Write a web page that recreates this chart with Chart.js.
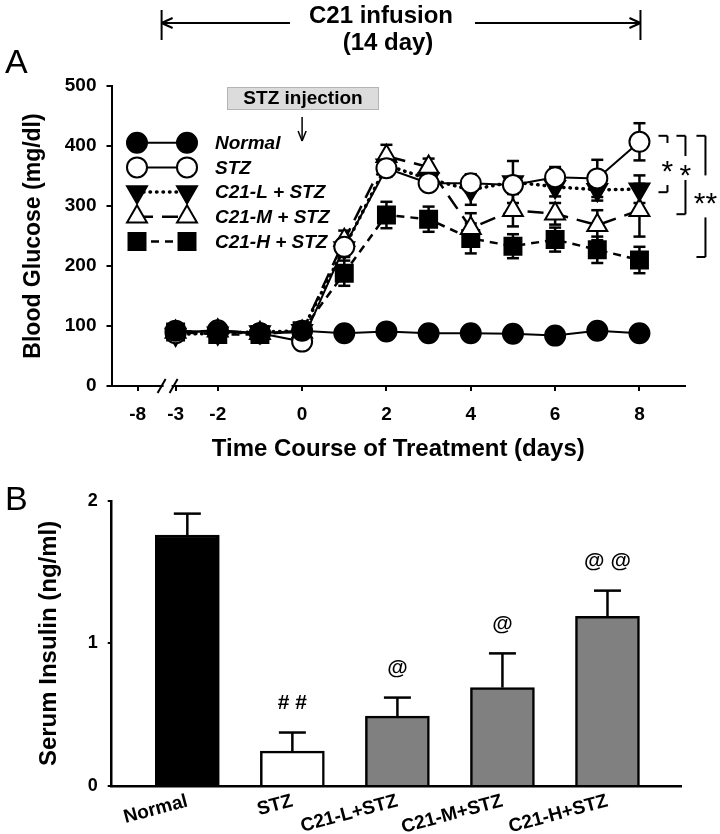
<!DOCTYPE html>
<html>
<head>
<meta charset="utf-8">
<script src="https://cdn.jsdelivr.net/npm/chart.js@4.4.0/dist/chart.umd.min.js"></script>
<style>
  html, body { margin: 0; padding: 0; background: #fff; }
  #wrap { position: relative; width: 720px; height: 834px; overflow: hidden; }
  #glucose { position: absolute; left: 0; top: 0; }
  #insulin { position: absolute; left: 0; top: 480px; }
  .panel { position: absolute; font: 34px/1 'Liberation Sans', Arial, sans-serif; color: #000; }
</style>
</head>
<body>
<div id="wrap">
  <canvas id="glucose" width="720" height="470"></canvas>
  <canvas id="insulin" width="720" height="354"></canvas>
  <div class="panel" style="left:5px; top:44px;">A</div>
  <div class="panel" style="left:5px; top:481px;">B</div>
</div>
<script>
/* ── data: panel A, blood glucose (mg/dl) ── */
const days      = [-3, -2, -1, 0, 1, 2, 3, 4, 5, 6, 7, 8];
const dayTicks  = [-8, -3, -2, 0, 2, 4, 6, 8];
const groupNames = ['Normal', 'STZ', 'C21-L + STZ', 'C21-M + STZ', 'C21-H + STZ'];

const normal    = [92, 90, 88, 92, 88, 91, 88, 88, 87, 84, 92, 88];
const stz       = [88, 93, 88, 74, 232, 363, 338, 338, 335, 348, 346, 407];
const c21L      = [86, 88, 90, 92, 230, 368, 345, 327, 340, 332, 327, 328];
const c21M      = [90, 92, 88, 90, 243, 383, 365, 263, 293, 287, 268, 293];
const c21H      = [90, 86, 86, 92, 188, 285, 278, 246, 233, 244, 227, 210];

const normalSem = [5, 5, 5, 5, 4, 4, 4, 4, 4, 4, 4, 4];
const stzSem    = [6, 6, 5, 6, 14, 14, 10, 15, 12, 17, 31, 31];
const c21LSem   = [8, 6, 5, 5, 15, 14, 12, 25, 35, 16, 18, 23];
const c21MSem   = [6, 6, 5, 5, 16, 19, 14, 25, 27, 18, 25, 44];
const c21HSem   = [6, 6, 5, 6, 21, 22, 21, 25, 20, 20, 22, 22];

/* ── data: panel B, serum insulin (ng/ml) ── */
const insulinGroups = ['Normal', 'STZ', 'C21-L+STZ', 'C21-M+STZ', 'C21-H+STZ'];
const insulin       = [1.76, 0.245, 0.49, 0.69, 1.19];
const insulinSem    = [0.15, 0.13, 0.13, 0.24, 0.18];
const insulinSig    = ['', '# #', '@', '@', '@ @'];

const FONT = "'Liberation Sans', Arial, Helvetica, sans-serif";
Chart.defaults.font.family = FONT;
Chart.defaults.color = '#000';

/* broken axis: -8 sits just left of the break */
const axisDay = d => (d < -3 ? d + 4.1 : d);

const seriesValues = [normal, stz, c21L, c21M, c21H];
const seriesSem    = [normalSem, stzSem, c21LSem, c21MSem, c21HSem];
const seriesStyle  = [
  { pointStyle: 'circle',   rotation: 0,   fill: '#000', radius: 10,   dash: [],      width: 2,   cap: 'butt'  },
  { pointStyle: 'circle',   rotation: 0,   fill: '#fff', radius: 10,   dash: [],      width: 2,   cap: 'butt'  },
  { pointStyle: 'triangle', rotation: 180, fill: '#000', radius: 11.5, dash: [0.5, 6], width: 3.5, cap: 'round' },
  { pointStyle: 'triangle', rotation: 0,   fill: '#fff', radius: 11.5, dash: [16, 9], width: 2.5, cap: 'butt'  },
  { pointStyle: 'rect',     rotation: 0,   fill: '#000', radius: 12,   dash: [8, 6],  width: 2.5, cap: 'butt'  }
];

function line(ctx, x1, y1, x2, y2) {
  ctx.beginPath(); ctx.moveTo(x1, y1); ctx.lineTo(x2, y2); ctx.stroke();
}

function marker(ctx, st, x, y) {
  ctx.fillStyle = st.fill; ctx.strokeStyle = '#000'; ctx.lineWidth = 2;
  ctx.setLineDash([]);
  if (Chart.helpers && Chart.helpers.drawPoint) {
    Chart.helpers.drawPoint(ctx, { pointStyle: st.pointStyle, rotation: st.rotation, radius: st.radius, borderWidth: 2 }, x, y);
  } else {
    ctx.beginPath(); ctx.arc(x, y, st.radius, 0, Math.PI * 2); ctx.fill(); ctx.stroke();
  }
}

/* error bars behind the markers */
const glucoseErrors = {
  id: 'glucoseErrors',
  beforeDatasetsDraw(chart) {
    const { ctx, scales: { x, y } } = chart;
    ctx.save();
    ctx.strokeStyle = '#000'; ctx.lineWidth = 2.5;
    seriesValues.forEach((vals, s) => {
      vals.forEach((v, i) => {
        const px = x.getPixelForValue(days[i]);
        const t = y.getPixelForValue(v + seriesSem[s][i]);
        const b = y.getPixelForValue(v - seriesSem[s][i]);
        line(ctx, px, t, px, b);
        line(ctx, px - 6, t, px + 6, t);
        line(ctx, px - 6, b, px + 6, b);
      });
    });
    ctx.restore();
  }
};

/* legend, labels, brackets, axis break */
const glucoseExtras = {
  id: 'glucoseExtras',
  afterDraw(chart) {
    const { ctx, scales: { x, y } } = chart;
    ctx.save();
    ctx.strokeStyle = '#000'; ctx.fillStyle = '#000';

    // axis break
    const bx = x.getPixelForValue(-3) - 8, by = y.getPixelForValue(0);
    ctx.fillStyle = '#fff';
    ctx.fillRect(bx - 4, by - 3, 8, 6);
    ctx.lineWidth = 2;
    line(ctx, bx - 10, by + 7, bx - 2, by - 7);
    line(ctx, bx + 2, by + 7, bx + 10, by - 7);

    // legend
    groupNames.forEach((name, i) => {
      const st = seriesStyle[i];
      const ly = 142.7 + i * 24.7;
      ctx.save();
      ctx.strokeStyle = '#000'; ctx.lineWidth = st.width; ctx.lineCap = st.cap;
      ctx.setLineDash(st.dash);
      line(ctx, 137, ly, 187, ly);
      ctx.restore();
      marker(ctx, st, 137, ly);
      marker(ctx, st, 187, ly);
      ctx.fillStyle = '#000';
      ctx.font = 'italic bold 19px ' + FONT;
      ctx.textAlign = 'left'; ctx.textBaseline = 'middle';
      ctx.fillText(name, 215, ly + 1);
    });

    // C21 infusion span
    ctx.setLineDash([]);
    ctx.lineWidth = 2;
    const xl = x.getPixelForValue(-3) - 14, xr = x.getPixelForValue(8) + 1, ay = 23;
    line(ctx, xl, 10, xl, 40); line(ctx, xr, 10, xr, 40);
    line(ctx, xl, ay, 290, ay); line(ctx, 475, ay, xr, ay);
    line(ctx, xl, ay, xl + 11, ay - 5); line(ctx, xl, ay, xl + 11, ay + 5);
    line(ctx, xr, ay, xr - 11, ay - 5); line(ctx, xr, ay, xr - 11, ay + 5);
    ctx.fillStyle = '#000';
    ctx.font = 'bold 24px ' + FONT;
    ctx.textAlign = 'center'; ctx.textBaseline = 'middle';
    ctx.fillText('C21 infusion', 381, 16);
    ctx.fillText('(14 day)', 388, 43);

    // STZ injection box + arrow
    const x0 = x.getPixelForValue(0);
    ctx.fillStyle = '#dcdcdc'; ctx.strokeStyle = '#b4b4b4'; ctx.lineWidth = 1;
    ctx.fillRect(227, 87, 152, 23); ctx.strokeRect(227.5, 87.5, 151, 22);
    ctx.fillStyle = '#000'; ctx.strokeStyle = '#000';
    ctx.font = 'bold 19px ' + FONT;
    ctx.fillText('STZ injection', 303, 99);
    ctx.lineWidth = 1.5;
    line(ctx, x0, 117, x0, 141);
    line(ctx, x0, 141, x0 - 4, 131); line(ctx, x0, 141, x0 + 4, 131);

    // significance brackets at day 8
    const last = days.length - 1;
    const x8 = x.getPixelForValue(8);
    const yTop = y.getPixelForValue(stz[last]) - 6;
    const brackets = [
      { dx: 28, bottom: y.getPixelForValue(c21L[last]) + 3, label: '*',  shift: 0,  gap: 21 },
      { dx: 46, bottom: y.getPixelForValue(c21M[last]) + 4, label: '*',  shift: -7, gap: 12 },
      { dx: 66, bottom: y.getPixelForValue(c21H[last]) - 3, label: '**', shift: 0,  gap: 21 }
    ];
    ctx.lineWidth = 2;
    ctx.font = '30px ' + FONT;
    ctx.textBaseline = 'alphabetic';
    brackets.forEach(b => {
      const bxv = x8 + b.dx;
      const mid = (yTop + b.bottom) / 2 + b.shift;
      line(ctx, bxv - 9, yTop, bxv, yTop);
      line(ctx, bxv, yTop, bxv, mid - b.gap);
      line(ctx, bxv, mid + b.gap, bxv, b.bottom);
      line(ctx, bxv - 9, b.bottom, bxv, b.bottom);
      ctx.fillText(b.label, bxv, mid + 17);
    });
    ctx.restore();
  }
};

new Chart(document.getElementById('glucose'), {
  type: 'line',
  data: {
    datasets: seriesValues.map((vals, s) => ({
      label: groupNames[s],
      data: vals.map((v, i) => ({ x: days[i], y: v })),
      borderColor: '#000',
      borderWidth: seriesStyle[s].width,
      borderDash: seriesStyle[s].dash,
      borderCapStyle: seriesStyle[s].cap,
      pointStyle: seriesStyle[s].pointStyle,
      pointRotation: seriesStyle[s].rotation,
      pointRadius: seriesStyle[s].radius,
      pointBackgroundColor: seriesStyle[s].fill,
      pointBorderColor: '#000',
      pointBorderWidth: 2,
      tension: 0,
      fill: false
    }))
  },
  options: {
    responsive: false, animation: false, events: [],
    layout: { padding: { top: 86, right: 35, left: 0, bottom: 0 } },
    plugins: { legend: { display: false }, tooltip: { enabled: false } },
    scales: {
      x: {
        type: 'linear', min: -4.52, max: 9.08,
        afterBuildTicks: s => { s.ticks = dayTicks.map(d => ({ value: axisDay(d) })); },
        afterFit: s => { s.height = 84; },
        ticks: { autoSkip: false, maxRotation: 0, padding: 12, font: { size: 19, weight: 'bold' },
                 callback: (v, i) => String(dayTicks[i]) },
        grid: { drawOnChartArea: false, tickLength: 5, color: '#000', lineWidth: 2 },
        border: { color: '#000', width: 2 },
        title: { display: true, text: 'Time Course of Treatment (days)', font: { size: 24, weight: 'bold' },
                 padding: { top: 0, bottom: 6 } }
      },
      y: {
        min: 0, max: 500,
        afterFit: s => { s.width = 111.5; },
        ticks: { stepSize: 100, padding: 10, font: { size: 19, weight: 'bold' } },
        grid: { drawOnChartArea: false, tickLength: 5, color: '#000', lineWidth: 2 },
        border: { color: '#000', width: 2 },
        title: { display: true, text: 'Blood Glucose (mg/dl)', font: { size: 23, weight: 'bold' },
                 padding: { top: 20, bottom: 0 } }
      }
    }
  },
  plugins: [glucoseErrors, glucoseExtras]
});

/* panel B */
const insulinExtras = {
  id: 'insulinExtras',
  afterDatasetsDraw(chart) {
    const { ctx, scales: { x, y } } = chart;
    ctx.save();
    ctx.strokeStyle = '#000'; ctx.fillStyle = '#000'; ctx.lineWidth = 2.5;
    ctx.font = 'bold 21px ' + FONT;
    ctx.textAlign = 'center'; ctx.textBaseline = 'middle';
    insulin.forEach((v, i) => {
      const px = x.getPixelForValue(i);
      const b = y.getPixelForValue(v);
      const t = y.getPixelForValue(v + insulinSem[i]);
      line(ctx, px, b, px, t);
      line(ctx, px - 13.5, t, px + 13.5, t);
      if (insulinSig[i]) ctx.fillText(insulinSig[i], px, t - 29);
    });
    ctx.restore();
  }
};

new Chart(document.getElementById('insulin'), {
  type: 'bar',
  data: {
    datasets: [{
      data: insulin.map((v, i) => ({ x: i, y: v })),
      backgroundColor: ['#000', '#fff', '#808080', '#808080', '#808080'],
      borderColor: '#000',
      borderWidth: 2.5,
      borderSkipped: 'bottom',
      barThickness: 64
    }]
  },
  options: {
    responsive: false, animation: false, events: [],
    layout: { padding: { top: 20, right: 39, left: 0, bottom: 0 } },
    plugins: { legend: { display: false }, tooltip: { enabled: false } },
    scales: {
      x: {
        type: 'linear', min: -0.72, max: 4.7, offset: false,
        afterBuildTicks: s => { s.ticks = insulinGroups.map((_, i) => ({ value: i })); },
        afterFit: s => { s.height = 48; },
        ticks: { autoSkip: false, minRotation: 15, maxRotation: 15, padding: 4,
                 font: { size: 19, weight: 'bold' }, callback: (v, i) => insulinGroups[i] },
        grid: { display: false, drawTicks: false, offset: false },
        border: { color: '#000', width: 2.5 }
      },
      y: {
        min: 0, max: 2,
        afterFit: s => { s.width = 111.7; },
        ticks: { stepSize: 1, padding: 10, font: { size: 18, weight: 'bold' } },
        grid: { drawOnChartArea: false, tickLength: 4, color: '#000', lineWidth: 2 },
        border: { color: '#000', width: 2.5 },
        title: { display: true, text: 'Serum Insulin (ng/ml)', font: { size: 24, weight: 'bold' },
                 padding: { top: 35, bottom: 0 } }
      }
    }
  },
  plugins: [insulinExtras]
});
</script>
</body>
</html>
